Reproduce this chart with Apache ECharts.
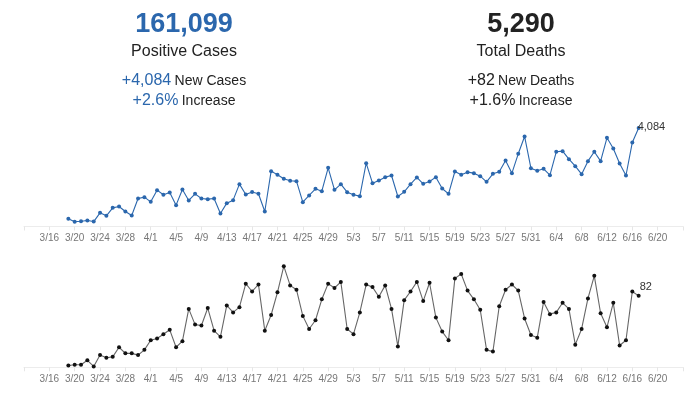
<!DOCTYPE html>
<html>
<head>
<meta charset="utf-8">
<script src="https://cdn.jsdelivr.net/npm/echarts@6/dist/echarts.min.js"></script>
<style>
  html, body { margin: 0; padding: 0; background: #fff; }
  #chart { width: 700px; height: 399px; }
</style>
</head>
<body>
<div id="chart"></div>
<script>
// axis runs 3/12 .. 6/24, data runs 3/19 .. 6/17
const startDate = new Date(2020, 2, 12);
const dayCount = 105;
const dates = [];
for (let i = 0; i < dayCount; i++) {
    const d = new Date(startDate.getFullYear(), startDate.getMonth(), startDate.getDate() + i);
    dates.push((d.getMonth() + 1) + '/' + d.getDate());
}
const leadDays = 7; // 3/12 .. 3/18 have no data

const newCases = [
    320, 195, 220, 250, 205, 567, 443, 774, 830, 622, 456, 1162, 1217, 1023,
    1507, 1314, 1411, 885, 1535, 1079, 1355, 1162, 1134, 1162, 539, 968, 1093,
    1756, 1328, 1430, 1360, 622, 2296, 2144, 1978, 1895, 1881, 1010, 1286, 1563,
    1466, 2434, 1521, 1756, 1424, 1314, 1259, 2628, 1798, 1909, 2047, 2116, 1245,
    1438, 1756, 2033, 1770, 1867, 2047, 1577, 1355, 2282, 2144, 2254, 2213, 2088,
    1853, 2185, 2268, 2738, 2213, 3015, 3734, 2420, 2310, 2393, 2130, 3098, 3126,
    2794, 2503, 2171, 2711, 3098, 2711, 3679, 3236, 2614, 2116, 3485, 4084
];

const newDeaths = [
    2, 3, 3, 8, 1, 14, 11, 12, 23, 16, 16, 14, 20, 31, 33, 38, 43, 23, 30, 67,
    49, 48, 68, 42, 35, 71, 63, 69, 96, 87, 95, 42, 60, 86, 116, 94, 89, 59, 44,
    54, 78, 96, 91, 98, 44, 38, 63, 95, 92, 81, 94, 67, 24, 77, 87, 98, 76, 97,
    57, 41, 31, 102, 107, 88, 78, 66, 20, 18, 70, 89, 95, 88, 56, 37, 34, 75,
    61, 63, 74, 67, 26, 44, 79, 105, 62, 46, 74, 25, 31, 87, 82
];

const summary = {
    cases: '161,099', deaths: '5,290',
    casesNew: '+4,084', deathsNew: '+82',
    casesPct: '+2.6%', deathsPct: '+1.6%'
};

const blue = '#2b67ad';
const dark = '#222';

function pad(values) {
    const out = [];
    for (let i = 0; i < leadDays; i++) out.push(null);
    values.forEach(v => out.push(v));
    while (out.length < dayCount) out.push(null);
    return out;
}

function lastLabel(values, offset) {
    const data = pad(values);
    const last = leadDays + values.length - 1;
    data[last] = {
        value: values[values.length - 1],
        label: {
            show: true,
            position: 'right',
            distance: 0,
            offset: offset,
            color: '#333',
            fontSize: 11,
            fontFamily: 'Liberation Sans',
            formatter: p => p.value.toLocaleString('en-US')
        }
    };
    return data;
}

const tickEvery = idx => idx % 4 === 0;
const labelEvery = idx => idx % 4 === 0 && idx > 0 && idx < dayCount - 1;

function xAxis(gridIndex) {
    return {
        type: 'category',
        gridIndex: gridIndex,
        data: dates,
        boundaryGap: false,
        axisLine: { lineStyle: { color: '#ececec' } },
        axisTick: { show: true, interval: tickEvery, length: 4, lineStyle: { color: '#e6e6e6' } },
        axisLabel: {
            interval: labelEvery,
            color: '#777',
            fontSize: 10,
            fontFamily: 'Liberation Sans',
            margin: 7
        }
    };
}

function yAxis(gridIndex, max) {
    return {
        type: 'value',
        gridIndex: gridIndex,
        min: 0,
        max: max,
        show: false
    };
}

function headerText(x, y, text, rich) {
    return {
        type: 'text',
        x: x,
        y: y,
        style: {
            text: text,
            rich: rich,
            align: 'center',
            verticalAlign: 'middle'
        }
    };
}

const font = 'Liberation Sans';
const chart = echarts.init(document.getElementById('chart'), null, { renderer: 'canvas' });

const option = {
    animation: false,
    backgroundColor: '#fff',
    grid: [
        { left: 24, right: 17, top: 118, height: 108.5 },
        { left: 24, right: 17, top: 254, height: 113.3 }
    ],
    xAxis: [xAxis(0), xAxis(1)],
    yAxis: [yAxis(0, 4500), yAxis(1, 130)],
    series: [
        {
            type: 'line',
            xAxisIndex: 0,
            yAxisIndex: 0,
            data: lastLabel(newCases, [-3, -1]),
            symbol: 'circle',
            symbolSize: 4,
            showAllSymbol: true,
            lineStyle: { color: blue, width: 1.1 },
            itemStyle: { color: blue },
            connectNulls: false
        },
        {
            type: 'line',
            xAxisIndex: 1,
            yAxisIndex: 1,
            data: lastLabel(newDeaths, [-1, -9]),
            symbol: 'circle',
            symbolSize: 4,
            showAllSymbol: true,
            lineStyle: { color: '#666', width: 1.1 },
            itemStyle: { color: '#111' },
            connectNulls: false
        }
    ],
    graphic: [
        headerText(184, 25, '{n|' + summary.cases + '}', {
            n: { fontSize: 27, fontWeight: 'bold', fill: blue, fontFamily: font }
        }),
        headerText(184, 52, '{t|Positive Cases}', {
            t: { fontSize: 16, fill: dark, fontFamily: font }
        }),
        headerText(184, 81, '{n|' + summary.casesNew + '} {t|New Cases}', {
            n: { fontSize: 16, fill: blue, fontFamily: font },
            t: { fontSize: 14, fill: dark, fontFamily: font }
        }),
        headerText(184, 101, '{n|' + summary.casesPct + '} {t|Increase}', {
            n: { fontSize: 16, fill: blue, fontFamily: font },
            t: { fontSize: 14, fill: dark, fontFamily: font }
        }),
        headerText(521, 25, '{n|' + summary.deaths + '}', {
            n: { fontSize: 27, fontWeight: 'bold', fill: dark, fontFamily: font }
        }),
        headerText(521, 52, '{t|Total Deaths}', {
            t: { fontSize: 16, fill: dark, fontFamily: font }
        }),
        headerText(521, 81, '{n|' + summary.deathsNew + '} {t|New Deaths}', {
            n: { fontSize: 16, fill: dark, fontFamily: font },
            t: { fontSize: 14, fill: dark, fontFamily: font }
        }),
        headerText(521, 101, '{n|' + summary.deathsPct + '} {t|Increase}', {
            n: { fontSize: 16, fill: dark, fontFamily: font },
            t: { fontSize: 14, fill: dark, fontFamily: font }
        })
    ]
};

chart.setOption(option);
</script>
</body>
</html>
